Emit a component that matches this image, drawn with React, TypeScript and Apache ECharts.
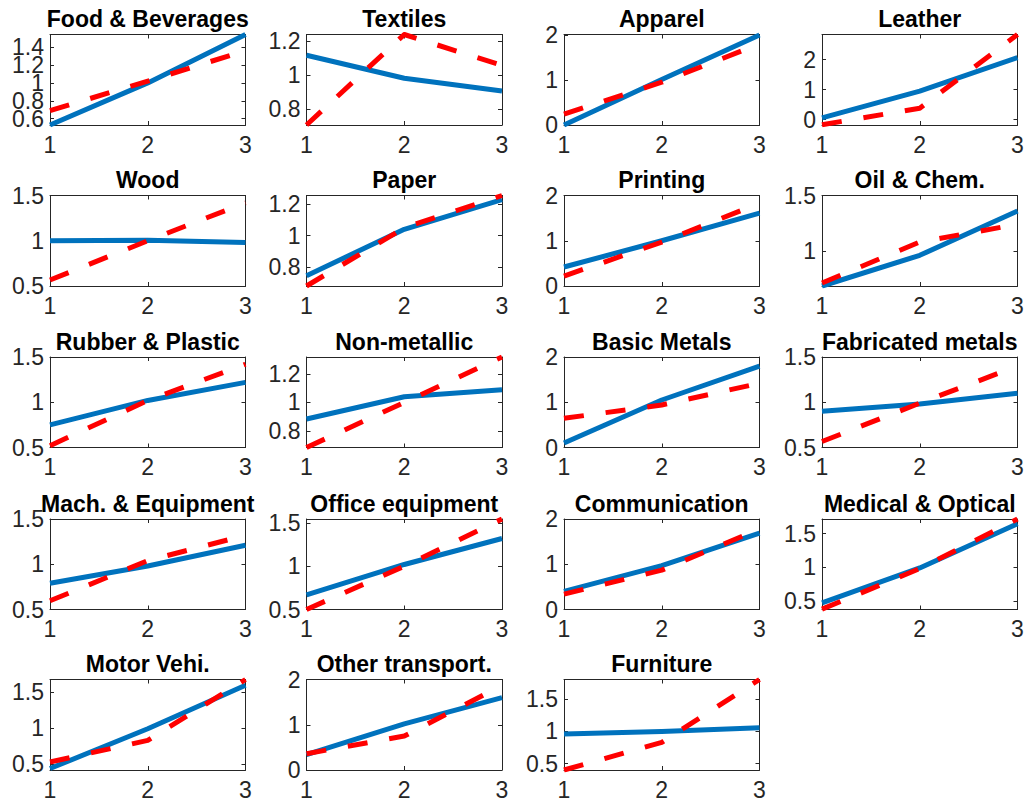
import React, { useEffect, useRef } from 'react';
import * as echarts from 'echarts';

const sectors = [
  'Food & Beverages', 'Textiles', 'Apparel', 'Leather',
  'Wood', 'Paper', 'Printing', 'Oil & Chem.',
  'Rubber & Plastic', 'Non-metallic', 'Basic Metals', 'Fabricated metals',
  'Mach. & Equipment', 'Office equipment', 'Communication', 'Medical & Optical',
  'Motor Vehi.', 'Other transport.', 'Furniture',
];

const periods = [1, 2, 3];

// solid blue series
const observed = [
  [0.53, 1.0, 1.54], [1.115, 0.98, 0.905], [0.0, 1.01, 2.0], [0.06, 0.95, 2.07],
  [1.0, 1.005, 0.98], [0.743, 1.04, 1.23], [0.42, 1.0, 1.61], [0.683, 0.96, 1.36],
  [0.75, 1.02, 1.22], [0.884, 1.04, 1.09], [0.1, 1.05, 1.8], [0.9, 0.98, 1.1],
  [0.79, 0.98, 1.21], [0.67, 1.02, 1.32], [0.4, 0.97, 1.69], [0.47, 0.99, 1.65],
  [0.44, 0.99, 1.59], [0.34, 1.02, 1.6], [0.96, 1.0, 1.06],
];

// dashed red series
const predicted = [
  [0.69, 1.02, 1.36], [0.705, 1.237, 1.055], [0.24, 0.95, 1.8], [-0.17, 0.38, 2.84],
  [0.566, 1.0, 1.42], [0.677, 1.05, 1.257], [0.22, 0.97, 1.83], [0.71, 1.08, 1.24],
  [0.52, 1.02, 1.42], [0.683, 1.0, 1.32], [0.645, 0.94, 1.42], [0.566, 0.99, 1.4],
  [0.596, 1.04, 1.32], [0.5, 1.0, 1.545], [0.34, 0.87, 1.78], [0.375, 0.98, 1.72],
  [0.53, 0.83, 1.67], [0.36, 0.75, 1.87], [0.4, 0.83, 1.81],
];

const yMin = [
  0.53, 0.705, 0, -0.18,
  0.5, 0.677, 0, 0.683,
  0.5, 0.683, 0, 0.5,
  0.5, 0.5, 0, 0.37,
  0.42, 0, 0.4,
];
const yMax = [
  1.54, 1.237, 2.01, 2.84,
  1.5, 1.257, 2, 1.5,
  1.5, 1.32, 2, 1.5,
  1.5, 1.545, 2, 1.72,
  1.67, 2, 1.81,
];

const yTicks = [
  [0.6, 0.8, 1, 1.2, 1.4], [0.8, 1, 1.2], [0, 1, 2], [0, 1, 2],
  [0.5, 1, 1.5], [0.8, 1, 1.2], [0, 1, 2], [1, 1.5],
  [0.5, 1, 1.5], [0.8, 1, 1.2], [0, 1, 2], [0.5, 1, 1.5],
  [0.5, 1, 1.5], [0.5, 1, 1.5], [0, 1, 2], [0.5, 1, 1.5],
  [0.5, 1, 1.5], [0, 1, 2], [0.5, 1, 1.5],
];

const colLeft = [50, 306.5, 564, 822];
const rowTop = [34.5, 195.5, 357, 519, 679.5];
const plotW = 195.5;
const plotH = 90.5;

const FONT = 'Liberation Sans, Arial, Helvetica, sans-serif';
const AXIS_COLOR = '#262626';

const App: React.FC = () => {
  const chartRef = useRef<HTMLDivElement>(null);

  useEffect(() => {
    if (!chartRef.current) return;
    const chart = echarts.init(chartRef.current, undefined, { renderer: 'svg' });

    const grids: any[] = [];
    const xAxes: any[] = [];
    const yAxes: any[] = [];
    const titles: any[] = [];
    const series: any[] = [];

    const axisLine = { show: true, onZero: false, lineStyle: { color: AXIS_COLOR, width: 1 } };
    const tickStyle = { color: AXIS_COLOR, width: 1 };
    const labelStyle = {
      fontSize: 23,
      color: AXIS_COLOR,
      fontFamily: FONT,
      showMinLabel: true,
      showMaxLabel: true,
      hideOverlap: false,
    };

    sectors.forEach((name, i) => {
      const left = colLeft[i % 4];
      const top = rowTop[Math.floor(i / 4)];

      grids.push({
        left,
        top,
        width: plotW,
        height: plotH,
        containLabel: false,
        outerBoundsMode: 'none',
      });

      titles.push({
        text: name,
        left: left + plotW / 2,
        top: top - 27,
        textAlign: 'center',
        padding: 0,
        textStyle: { fontSize: 23, fontWeight: 'bold', color: '#000', fontFamily: FONT },
      });

      // bottom + top x axes (box)
      ['bottom', 'top'].forEach((pos) => {
        xAxes.push({
          gridIndex: i,
          type: 'value',
          position: pos,
          min: 1,
          max: 3,
          interval: 1,
          axisLine,
          axisTick: { show: true, inside: true, length: 4, lineStyle: tickStyle },
          axisLabel: { ...labelStyle, show: pos === 'bottom', margin: 8 },
          splitLine: { show: false },
        });
      });

      // left y axis with every other label, right y axis (box),
      // and a bare left axis carrying the remaining labels so crowded ones still show
      const evenTicks = yTicks[i].filter((_, k) => k % 2 === 0);
      const oddTicks = yTicks[i].filter((_, k) => k % 2 === 1);
      [
        { pos: 'left', line: true, ticks: true, labels: evenTicks },
        { pos: 'right', line: true, ticks: true, labels: null },
        { pos: 'left', line: false, ticks: false, labels: oddTicks },
      ].forEach((ax) => {
        yAxes.push({
          gridIndex: i,
          type: 'value',
          position: ax.pos,
          offset: 0,
          min: yMin[i],
          max: yMax[i],
          axisLine: ax.line ? axisLine : { show: false, onZero: false },
          axisTick: {
            show: ax.ticks,
            inside: true,
            length: 4,
            lineStyle: tickStyle,
            customValues: yTicks[i],
          },
          axisLabel: {
            ...labelStyle,
            show: !!ax.labels && ax.labels.length > 0,
            margin: 6,
            customValues: ax.labels && ax.labels.length ? ax.labels : yTicks[i],
          },
          splitLine: { show: false },
        });
      });

      series.push({
        type: 'line',
        name: name + ' obs',
        xAxisIndex: 2 * i,
        yAxisIndex: 3 * i,
        data: periods.map((p, k) => [p, observed[i][k]]),
        symbol: 'none',
        clip: true,
        lineStyle: { color: '#0072BD', width: 5, join: 'round' },
        z: 2,
      });
      series.push({
        type: 'line',
        name: name + ' pred',
        xAxisIndex: 2 * i,
        yAxisIndex: 3 * i,
        data: periods.map((p, k) => [p, predicted[i][k]]),
        symbol: 'none',
        clip: true,
        lineStyle: { color: '#FF0000', width: 5, type: [20, 22], cap: 'butt', join: 'round' },
        z: 3,
      });
    });

    chart.setOption({
      animation: false,
      backgroundColor: '#fff',
      title: titles,
      grid: grids,
      xAxis: xAxes,
      yAxis: yAxes,
      series,
    });

    return () => {
      chart.dispose();
    };
  }, []);

  return (
    <div
      ref={chartRef}
      style={{ position: 'fixed', left: 0, top: 0, width: 1028, height: 806, background: '#fff' }}
    />
  );
};

export default App;
